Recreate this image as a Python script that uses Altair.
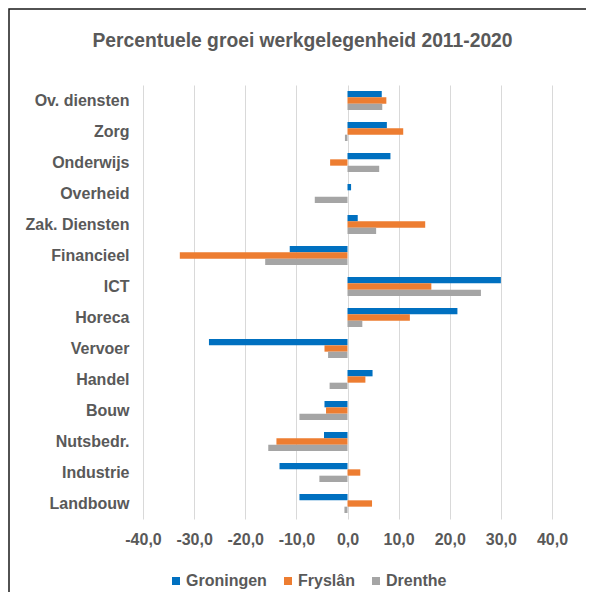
import altair as alt
import pandas as pd

categories = ["Ov. diensten", "Zorg", "Onderwijs", "Overheid", "Zak. Diensten",
              "Financieel", "ICT", "Horeca", "Vervoer ", "Handel", "Bouw",
              "Nutsbedr.", "Industrie", "Landbouw "]
series = ["Groningen", "Fryslân", "Drenthe"]
colors = ["#0070C0", "#ED7D31", "#A5A5A5"]

groningen = [6.7, 7.7, 8.4, 0.7, 2.0, -11.3, 30.0, 21.5, -27.1, 4.9, -4.5, -4.6, -13.3, -9.4]
fryslan   = [7.6, 10.9, -3.4, 0.0, 15.2, -32.8, 16.4, 12.2, -4.5, 3.5, -4.2, -13.9, 2.5, 4.8]
drenthe   = [6.8, -0.5, 6.2, -6.4, 5.6, -16.1, 26.1, 2.9, -3.8, -3.5, -9.4, -15.5, -5.5, -0.6]

x_ticks = [-40, -30, -20, -10, 0, 10, 20, 30, 40]
title_text = "Percentuele groei werkgelegenheid 2011-2020"

rows = []
for s, vals in zip(series, [groningen, fryslan, drenthe]):
    for c, v in zip(categories, vals):
        rows.append({"sector": c, "regio": s, "groei": v})
df = pd.DataFrame(rows)

FONT = "Liberation Sans"
GREY = "#595959"
LBL = 16

bars = alt.Chart(df).mark_bar().encode(
    x=alt.X("groei:Q",
            scale=alt.Scale(domain=[-40, 40], nice=False, zero=False),
            axis=alt.Axis(values=x_ticks, title=None, labelOverlap=False,
                          labelFlush=False,
                          labelExpr="replace(replace(format(datum.value, '.1f'), '.', ','), '\u2212', '-')",
                          grid=True, gridColor="#D9D9D9", gridWidth=1,
                          domain=False, ticks=False, labelPadding=12,
                          labelFont=FONT, labelFontSize=LBL, labelFontWeight="bold",
                          labelColor=GREY)),
    y=alt.Y("sector:N", sort=categories,
            scale=alt.Scale(paddingInner=0.386, paddingOuter=0.193),
            axis=alt.Axis(title=None, domain=False, ticks=False, grid=False,
                          labelPadding=14,
                          labelExpr="replace(datum.value, ' ', '\u00a0')",
                          labelFont=FONT, labelFontSize=LBL, labelFontWeight="bold",
                          labelColor=GREY)),
    yOffset=alt.YOffset("regio:N", sort=series,
                        scale=alt.Scale(paddingInner=0, paddingOuter=0)),
    color=alt.Color("regio:N", sort=series,
                    scale=alt.Scale(domain=series, range=colors),
                    legend=alt.Legend(title=None, orient="none", direction="horizontal",
                                      legendX=25, legendY=488,
                                      symbolType="square", symbolSize=64,
                                      symbolStrokeWidth=0, labelOffset=2,
                                      columnPadding=13,
                                      labelFont=FONT, labelFontSize=LBL,
                                      labelFontWeight="bold", labelColor=GREY)),
)

frame = pd.DataFrame({"t": [title_text]})
border = alt.Chart(frame).mark_rect(fill=None, fillOpacity=0, stroke="#1a1a1a",
                                    strokeWidth=1.5).encode(
    x=alt.value(-134), x2=alt.value(480), y=alt.value(-76), y2=alt.value(560))
title = alt.Chart(frame).mark_text(
    font=FONT, fontSize=19.3, fontWeight="bold", color=GREY,
    align="center", baseline="alphabetic").encode(
    text="t:N", x=alt.value(159.5), y=alt.value(-38))

chart = alt.layer(bars, border, title).properties(
    width=409, height=434,
    autosize=alt.AutoSizeParams(type="none"),
    padding={"left": 135, "top": 77, "right": 34, "bottom": 73},
).configure_view(stroke=None)

chart.save("out.html", embed_options={"renderer": "svg", "actions": False})
